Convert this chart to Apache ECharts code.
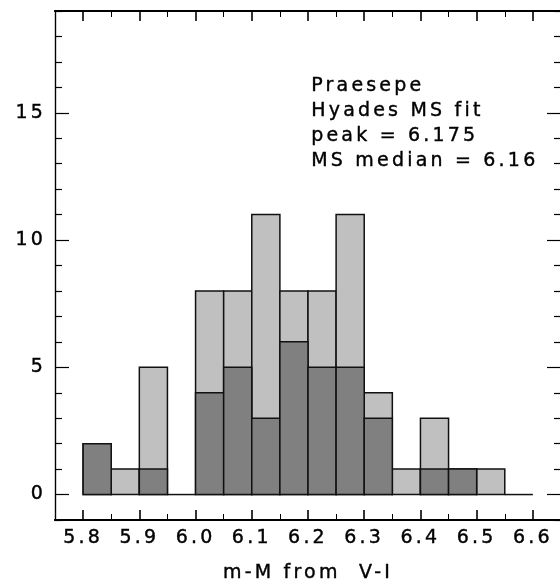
<!DOCTYPE html>
<html>
<head>
<meta charset="utf-8">
<script src="https://cdn.jsdelivr.net/npm/echarts@6/dist/echarts.min.js"></script>
<style>
html,body{margin:0;padding:0;background:#fff;}
#chart{width:560px;height:584px;}
</style>
</head>
<body>
<div id="chart"></div>
<script>
// ---- data ----
const binEdges = [5.80, 5.85, 5.90, 5.95, 6.00, 6.05, 6.10, 6.15, 6.20, 6.25, 6.30, 6.35, 6.40, 6.45, 6.50, 6.55, 6.60];
const totalCounts = [2, 1, 5, 0, 8, 8, 11, 8, 8, 11, 4, 1, 3, 1, 1, 0];
const subsetCounts = [2, 0, 1, 0, 4, 5, 3, 6, 5, 5, 3, 0, 1, 1, 0, 0];
const xMajorTicks = [5.8, 5.9, 6.0, 6.1, 6.2, 6.3, 6.4, 6.5, 6.6];
const xMinorTicks = [5.75, 5.85, 5.95, 6.05, 6.15, 6.25, 6.35, 6.45, 6.55, 6.65];
const yMajorTicks = [0, 5, 10, 15];
const yMinorTicks = [-1, 1, 2, 3, 4, 6, 7, 8, 9, 11, 12, 13, 14, 16, 17, 18, 19];
const annotationLines = ['Praesepe', 'Hyades MS fit', 'peak = 6.175', 'MS median = 6.16'];
const xTitle = 'm-M from  V-I';

// wide letter spacing like the original plotting font
const LS = '3.2px';
(function(){
  const p = CanvasRenderingContext2D.prototype;
  const f = p.fillText, m = p.measureText, s = p.strokeText;
  if (!('letterSpacing' in p)) return;
  p.fillText = function(){ this.letterSpacing = LS; return f.apply(this, arguments); };
  p.strokeText = function(){ this.letterSpacing = LS; return s.apply(this, arguments); };
  p.measureText = function(){ this.letterSpacing = LS; return m.apply(this, arguments); };
})();

const FONT = '"DejaVu Sans", "Liberation Sans", Arial, sans-serif';
const FS = 19;
const TB = 0.4; // slight stroke to thicken glyphs

const histTotal = totalCounts.map((c, i) => [binEdges[i], binEdges[i + 1], c]);
const histSubset = subsetCounts.map((c, i) => [binEdges[i], binEdges[i + 1], c]).filter(d => d[2] > 0);

function makeRender(fill, drawZero) {
  return function (params, api) {
    const x0 = api.value(0), x1 = api.value(1), c = api.value(2);
    const pTop = api.coord([x0, c]);
    const pBot = api.coord([x1, 0]);
    if (c === 0) {
      if (!drawZero) return null;
      return { type: 'line', shape: { x1: pTop[0], y1: pBot[1], x2: pBot[0], y2: pBot[1] },
               style: { stroke: '#111', lineWidth: 1.5 } };
    }
    return { type: 'rect',
             shape: { x: pTop[0], y: pTop[1], width: pBot[0] - pTop[0], height: pBot[1] - pTop[1] },
             style: { fill: fill, stroke: '#111', lineWidth: 1.5 } };
  };
}

const xMin = 5.75, xMax = 6.65, yMin = -1, yMax = 19;

function xAxisDef(pos, ticks, len, withLabel, lw) {
  return {
    type: 'value', position: pos, min: xMin, max: xMax, gridIndex: 0,
    axisLine: { show: true, onZero: false, lineStyle: { color: '#000', width: 2 } },
    axisTick: { show: true, inside: true, length: len, customValues: ticks, lineStyle: { color: '#000', width: lw } },
    axisLabel: withLabel ? { show: true, customValues: ticks, margin: 7, color: '#000', fontFamily: FONT, fontSize: FS,
                             textBorderColor: '#000', textBorderWidth: TB,
                             formatter: v => Number(v).toFixed(1) } : { show: false },
    splitLine: { show: false }
  };
}
function yAxisDef(pos, ticks, len, withLabel) {
  return {
    type: 'value', position: pos, min: yMin, max: yMax, gridIndex: 0,
    axisLine: { show: true, onZero: false, lineStyle: { color: '#000', width: 1.2 } },
    axisTick: { show: true, inside: true, length: len, customValues: ticks, lineStyle: { color: '#000', width: 1.2 } },
    axisLabel: withLabel ? { show: true, customValues: ticks, margin: 9, color: '#000', fontFamily: FONT, fontSize: FS,
                             textBorderColor: '#000', textBorderWidth: TB,
                             formatter: v => String(v) } : { show: false },
    splitLine: { show: false }
  };
}

const xBottom = xAxisDef('bottom', xMajorTicks, 10, true, 1.6);
xBottom.name = xTitle;
xBottom.nameLocation = 'middle';
xBottom.nameGap = 42;
xBottom.nameTextStyle = { color: '#000', fontFamily: FONT, fontSize: FS, textBorderColor: '#000', textBorderWidth: TB };

const chart = echarts.init(document.getElementById('chart'), null, { renderer: 'canvas' });
chart.setOption({
  animation: false,
  backgroundColor: '#fff',
  grid: { left: 55, right: -1, top: 11, bottom: 64, containLabel: false, outerBoundsMode: 'none' },
  xAxis: [
    xBottom,
    xAxisDef('bottom', xMinorTicks, 6, false, 1),
    xAxisDef('top', xMajorTicks, 10, false, 1.6),
    xAxisDef('top', xMinorTicks, 6, false, 1)
  ],
  yAxis: [
    yAxisDef('left', yMajorTicks, 14, true),
    yAxisDef('left', yMinorTicks, 7, false),
    yAxisDef('right', yMajorTicks, 14, false),
    yAxisDef('right', yMinorTicks, 7, false)
  ],
  series: [
    { type: 'custom', xAxisIndex: 0, yAxisIndex: 0, data: histTotal,
      encode: { x: [0, 1], y: 2 }, renderItem: makeRender('#c0c0c0', true), silent: true },
    { type: 'custom', xAxisIndex: 0, yAxisIndex: 0, data: histSubset,
      encode: { x: [0, 1], y: 2 }, renderItem: makeRender('#808080', false), silent: true }
  ],
  graphic: [
    { type: 'text', left: 311, top: 74,
      style: { text: annotationLines.join('\n'), fill: '#000', stroke: '#000', lineWidth: TB,
               font: FS + 'px ' + FONT, lineHeight: 25 } }
  ]
});
</script>
</body>
</html>
